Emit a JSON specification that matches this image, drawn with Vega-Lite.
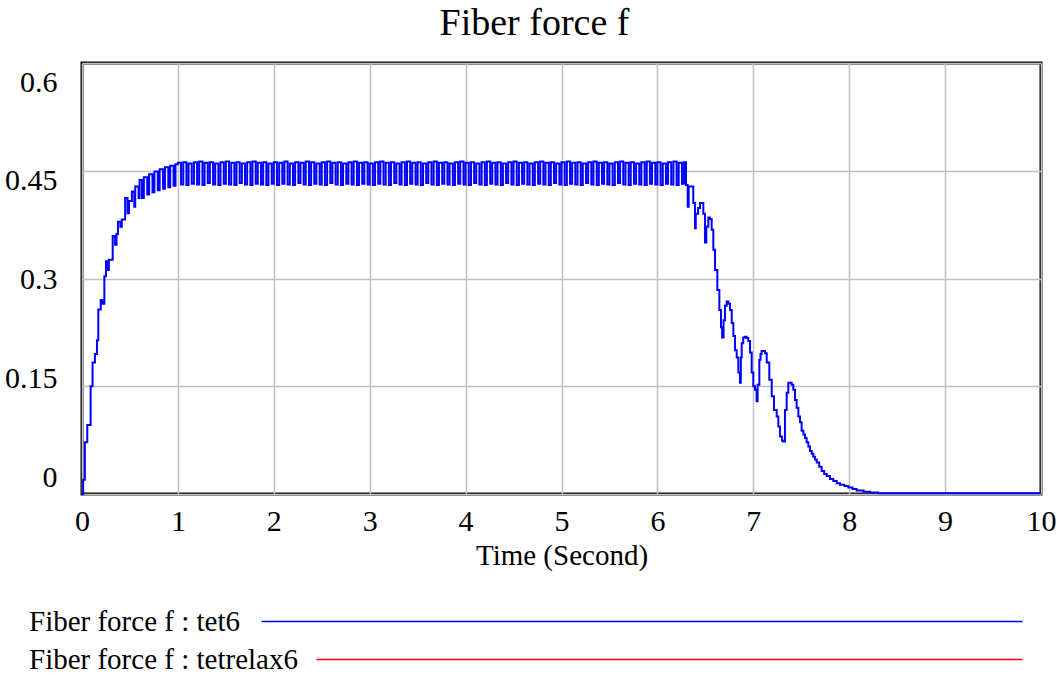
{
"$schema": "https://vega.github.io/schema/vega-lite/v6.json",
"width": 959,
"height": 431,
"autosize": {"type": "none"},
"padding": {"left": 82, "top": 63, "right": 16, "bottom": 181},
"background": "white",
"title": {"text": "Fiber force f", "font": "Liberation Serif", "fontSize": 38, "fontWeight": "normal", "color": "black", "anchor": "middle", "dx": -27, "offset": 20},
"config": {
  "view": {"stroke": "black", "strokeWidth": 3},
  "axis": {"grid": true, "gridColor": "#c0c0c0", "gridWidth": 1.5, "domain": false, "ticks": false, "labelFont": "Liberation Serif", "labelColor": "black", "titleFont": "Liberation Serif", "titleColor": "black", "titleFontWeight": "normal", "labelFlush": false, "labelOverlap": false}
},
"data": {"values": [
{"t":0,"f":0},{"t":0.012,"f":0.02},{"t":0.03,"f":0.072},{"t":0.055,"f":0.096},{"t":0.09,"f":0.15},{"t":0.11,"f":0.183},{"t":0.135,"f":0.195},{"t":0.156,"f":0.214},{"t":0.17,"f":0.257},{"t":0.195,"f":0.27},{"t":0.215,"f":0.265},{"t":0.233,"f":0.303},{"t":0.25,"f":0.324},{"t":0.27,"f":0.312},{"t":0.28,"f":0.326},{"t":0.32,"f":0.359},{"t":0.345,"f":0.347},{"t":0.36,"f":0.362},{"t":0.375,"f":0.379},{"t":0.4,"f":0.372},{"t":0.415,"f":0.382},{"t":0.45,"f":0.412},{"t":0.475,"f":0.391},{"t":0.49,"f":0.408},{"t":0.52,"f":0.421},{"t":0.545,"f":0.4},{"t":0.555,"f":0.428},{"t":0.59,"f":0.412},{"t":0.6,"f":0.437},{"t":0.625,"f":0.412},{"t":0.645,"f":0.441},{"t":0.68,"f":0.417},{"t":0.7,"f":0.445},{"t":0.735,"f":0.42},{"t":0.755,"f":0.449},{"t":0.79,"f":0.423},{"t":0.81,"f":0.452},{"t":0.845,"f":0.425},{"t":0.865,"f":0.455},{"t":0.9,"f":0.427},{"t":0.92,"f":0.457},{"t":0.955,"f":0.429},{"t":0.975,"f":0.459},
{"t":1.0,"f":0.461},{"t":1.033,"f":0.431},{"t":1.056,"f":0.462},{"t":1.089,"f":0.43},{"t":1.111,"f":0.46},{"t":1.144,"f":0.432},{"t":1.167,"f":0.462},{"t":1.2,"f":0.431},{"t":1.222,"f":0.463},{"t":1.256,"f":0.43},{"t":1.278,"f":0.461},{"t":1.311,"f":0.433},{"t":1.333,"f":0.462},{"t":1.367,"f":0.431},{"t":1.389,"f":0.46},{"t":1.422,"f":0.43},{"t":1.444,"f":0.462},{"t":1.478,"f":0.432},{"t":1.5,"f":0.463},{"t":1.533,"f":0.431},{"t":1.556,"f":0.461},{"t":1.589,"f":0.43},{"t":1.611,"f":0.462},{"t":1.644,"f":0.433},{"t":1.667,"f":0.46},{"t":1.7,"f":0.431},{"t":1.722,"f":0.462},{"t":1.756,"f":0.43},{"t":1.778,"f":0.463},{"t":1.811,"f":0.432},{"t":1.833,"f":0.461},{"t":1.867,"f":0.431},{"t":1.889,"f":0.462},{"t":1.922,"f":0.43},{"t":1.944,"f":0.46},{"t":1.978,"f":0.432},
{"t":2.0,"f":0.462},{"t":2.033,"f":0.43},{"t":2.056,"f":0.461},{"t":2.089,"f":0.432},{"t":2.111,"f":0.463},{"t":2.144,"f":0.431},{"t":2.167,"f":0.46},{"t":2.2,"f":0.43},{"t":2.222,"f":0.462},{"t":2.256,"f":0.433},{"t":2.278,"f":0.461},{"t":2.311,"f":0.431},{"t":2.333,"f":0.463},{"t":2.367,"f":0.43},{"t":2.389,"f":0.462},{"t":2.422,"f":0.432},{"t":2.444,"f":0.46},{"t":2.478,"f":0.431},{"t":2.5,"f":0.462},{"t":2.533,"f":0.43},{"t":2.556,"f":0.463},{"t":2.589,"f":0.433},{"t":2.611,"f":0.461},{"t":2.644,"f":0.431},{"t":2.667,"f":0.462},{"t":2.7,"f":0.43},{"t":2.722,"f":0.46},{"t":2.756,"f":0.432},{"t":2.778,"f":0.462},{"t":2.811,"f":0.431},{"t":2.833,"f":0.463},{"t":2.867,"f":0.43},{"t":2.889,"f":0.461},{"t":2.922,"f":0.432},{"t":2.944,"f":0.462},{"t":2.978,"f":0.431},
{"t":3.0,"f":0.46},{"t":3.033,"f":0.43},{"t":3.056,"f":0.462},{"t":3.089,"f":0.432},{"t":3.111,"f":0.463},{"t":3.144,"f":0.431},{"t":3.167,"f":0.461},{"t":3.2,"f":0.43},{"t":3.222,"f":0.462},{"t":3.256,"f":0.433},{"t":3.278,"f":0.46},{"t":3.311,"f":0.431},{"t":3.333,"f":0.462},{"t":3.367,"f":0.43},{"t":3.389,"f":0.463},{"t":3.422,"f":0.432},{"t":3.444,"f":0.461},{"t":3.478,"f":0.431},{"t":3.5,"f":0.462},{"t":3.533,"f":0.43},{"t":3.556,"f":0.46},{"t":3.589,"f":0.433},{"t":3.611,"f":0.462},{"t":3.644,"f":0.431},{"t":3.667,"f":0.463},{"t":3.7,"f":0.43},{"t":3.722,"f":0.461},{"t":3.756,"f":0.432},{"t":3.778,"f":0.462},{"t":3.811,"f":0.431},{"t":3.833,"f":0.46},{"t":3.867,"f":0.43},{"t":3.889,"f":0.462},{"t":3.922,"f":0.432},{"t":3.944,"f":0.463},{"t":3.978,"f":0.431},
{"t":4.0,"f":0.461},{"t":4.033,"f":0.43},{"t":4.056,"f":0.462},{"t":4.089,"f":0.433},{"t":4.111,"f":0.46},{"t":4.144,"f":0.431},{"t":4.167,"f":0.462},{"t":4.2,"f":0.43},{"t":4.222,"f":0.463},{"t":4.256,"f":0.432},{"t":4.278,"f":0.461},{"t":4.311,"f":0.431},{"t":4.333,"f":0.462},{"t":4.367,"f":0.43},{"t":4.389,"f":0.46},{"t":4.422,"f":0.433},{"t":4.444,"f":0.462},{"t":4.478,"f":0.431},{"t":4.5,"f":0.463},{"t":4.533,"f":0.43},{"t":4.556,"f":0.461},{"t":4.589,"f":0.432},{"t":4.611,"f":0.462},{"t":4.644,"f":0.431},{"t":4.667,"f":0.46},{"t":4.7,"f":0.43},{"t":4.722,"f":0.462},{"t":4.756,"f":0.432},{"t":4.778,"f":0.463},{"t":4.811,"f":0.431},{"t":4.833,"f":0.461},{"t":4.867,"f":0.43},{"t":4.889,"f":0.462},{"t":4.922,"f":0.433},{"t":4.944,"f":0.46},{"t":4.978,"f":0.431},
{"t":5.0,"f":0.462},{"t":5.033,"f":0.43},{"t":5.056,"f":0.463},{"t":5.089,"f":0.432},{"t":5.111,"f":0.461},{"t":5.144,"f":0.431},{"t":5.167,"f":0.462},{"t":5.2,"f":0.43},{"t":5.222,"f":0.46},{"t":5.256,"f":0.433},{"t":5.278,"f":0.462},{"t":5.311,"f":0.431},{"t":5.333,"f":0.463},{"t":5.367,"f":0.43},{"t":5.389,"f":0.461},{"t":5.422,"f":0.432},{"t":5.444,"f":0.462},{"t":5.478,"f":0.431},{"t":5.5,"f":0.46},{"t":5.533,"f":0.43},{"t":5.556,"f":0.462},{"t":5.589,"f":0.433},{"t":5.611,"f":0.463},{"t":5.644,"f":0.431},{"t":5.667,"f":0.461},{"t":5.7,"f":0.43},{"t":5.722,"f":0.462},{"t":5.756,"f":0.432},{"t":5.778,"f":0.46},{"t":5.811,"f":0.431},{"t":5.833,"f":0.462},{"t":5.867,"f":0.43},{"t":5.889,"f":0.463},{"t":5.922,"f":0.432},{"t":5.944,"f":0.461},{"t":5.978,"f":0.431},
{"t":6.0,"f":0.462},{"t":6.033,"f":0.43},{"t":6.056,"f":0.46},{"t":6.089,"f":0.432},{"t":6.111,"f":0.462},{"t":6.144,"f":0.431},{"t":6.167,"f":0.463},{"t":6.2,"f":0.43},{"t":6.222,"f":0.461},{"t":6.256,"f":0.432},{"t":6.278,"f":0.462},
{"t":6.298,"f":0.43},{"t":6.316,"f":0.4},{"t":6.326,"f":0.428},{"t":6.374,"f":0.405},{"t":6.392,"f":0.37},{"t":6.4,"f":0.39},{"t":6.425,"f":0.398},{"t":6.444,"f":0.405},{"t":6.479,"f":0.39},{"t":6.496,"f":0.35},{"t":6.51,"f":0.372},{"t":6.531,"f":0.385},{"t":6.548,"f":0.383},{"t":6.566,"f":0.368},{"t":6.583,"f":0.34},{"t":6.601,"f":0.312},{"t":6.625,"f":0.284},{"t":6.646,"f":0.256},{"t":6.663,"f":0.232},{"t":6.675,"f":0.218},{"t":6.69,"f":0.242},{"t":6.705,"f":0.262},{"t":6.722,"f":0.268},{"t":6.74,"f":0.265},{"t":6.757,"f":0.256},{"t":6.775,"f":0.238},{"t":6.792,"f":0.22},{"t":6.809,"f":0.2},{"t":6.827,"f":0.19},{"t":6.844,"f":0.169},{"t":6.861,"f":0.155},{"t":6.87,"f":0.19},{"t":6.879,"f":0.21},{"t":6.895,"f":0.218},{"t":6.914,"f":0.219},{"t":6.93,"f":0.217},{"t":6.948,"f":0.213},{"t":6.966,"f":0.197},{"t":6.983,"f":0.169},{"t":7.0,"f":0.15},{"t":7.018,"f":0.145},{"t":7.035,"f":0.129},{"t":7.045,"f":0.152},{"t":7.063,"f":0.187},{"t":7.075,"f":0.195},{"t":7.087,"f":0.199},{"t":7.105,"f":0.199},{"t":7.122,"f":0.196},{"t":7.14,"f":0.183},{"t":7.167,"f":0.159},{"t":7.192,"f":0.136},{"t":7.216,"f":0.117},{"t":7.244,"f":0.108},{"t":7.261,"f":0.094},{"t":7.278,"f":0.08},{"t":7.3,"f":0.074},{"t":7.313,"f":0.073},{"t":7.33,"f":0.117},{"t":7.348,"f":0.141},{"t":7.365,"f":0.155},{"t":7.383,"f":0.155},{"t":7.4,"f":0.152},{"t":7.417,"f":0.145},{"t":7.435,"f":0.131},{"t":7.452,"f":0.12},{"t":7.47,"f":0.108},{"t":7.487,"f":0.1},{"t":7.504,"f":0.088},{"t":7.522,"f":0.083},{"t":7.539,"f":0.078},{"t":7.556,"f":0.072},{"t":7.574,"f":0.066},{"t":7.591,"f":0.06},{"t":7.609,"f":0.056},{"t":7.626,"f":0.052},{"t":7.643,"f":0.048},{"t":7.661,"f":0.044},{"t":7.687,"f":0.038},{"t":7.713,"f":0.032},{"t":7.739,"f":0.028},{"t":7.765,"f":0.025},{"t":7.8,"f":0.021},{"t":7.834,"f":0.018},{"t":7.87,"f":0.015},{"t":7.904,"f":0.013},{"t":7.95,"f":0.011},{"t":7.991,"f":0.009},{"t":8.035,"f":0.007},{"t":8.078,"f":0.005},{"t":8.15,"f":0.003},{"t":8.217,"f":0.002},{"t":8.3,"f":0.001},{"t":9.0,"f":0.001},{"t":10.0,"f":0.001}
]},
"mark": {"type": "line", "interpolate": "step-after", "strokeWidth": 2},
"encoding": {
  "x": {"field": "t", "type": "quantitative", "scale": {"domain": [0, 10], "nice": false},
        "axis": {"values": [0,1,2,3,4,5,6,7,8,9,10], "format": "d", "labelFontSize": 30, "labelPadding": 12, "title": "Time (Second)", "titleFontSize": 29, "titlePadding": 5}},
  "y": {"field": "f", "type": "quantitative", "scale": {"domain": [0, 0.6], "nice": false, "zero": false},
        "axis": {"values": [0, 0.15, 0.3, 0.45, 0.6], "labelExpr": "'' + datum.value", "labelFontSize": 30, "labelPadding": 25, "labelBaseline": "middle", "title": null,
                 "labelOffset": {"condition": [{"test": "datum.value == 0", "value": -17}, {"test": "datum.value == 0.15", "value": -8}, {"test": "datum.value == 0.3", "value": 1}, {"test": "datum.value == 0.45", "value": 10}], "value": 19.5}}},
  "color": {"datum": "Fiber force f : tet6", "type": "nominal",
            "scale": {"domain": ["Fiber force f : tet6", "Fiber force f : tetrelax6"], "range": ["#0000ff", "#ff0000"]},
            "legend": {"orient": "none", "legendX": -86, "legendY": 544, "direction": "vertical", "title": null,
                       "labelFont": "Liberation Serif", "labelFontSize": 29, "labelColor": "black", "labelLimit": 800,
                       "symbolType": "M0,0H1", "symbolSize": 4, "symbolStrokeWidth": 1.5, "rowPadding": 8,
                       "encode": {"symbols": {"update": {"shape": {"signal": "datum.index === 0 ? 'M251,0H1012' : 'M306,0H1012'"}, "size": {"value": 4}}}}}}
}
}
